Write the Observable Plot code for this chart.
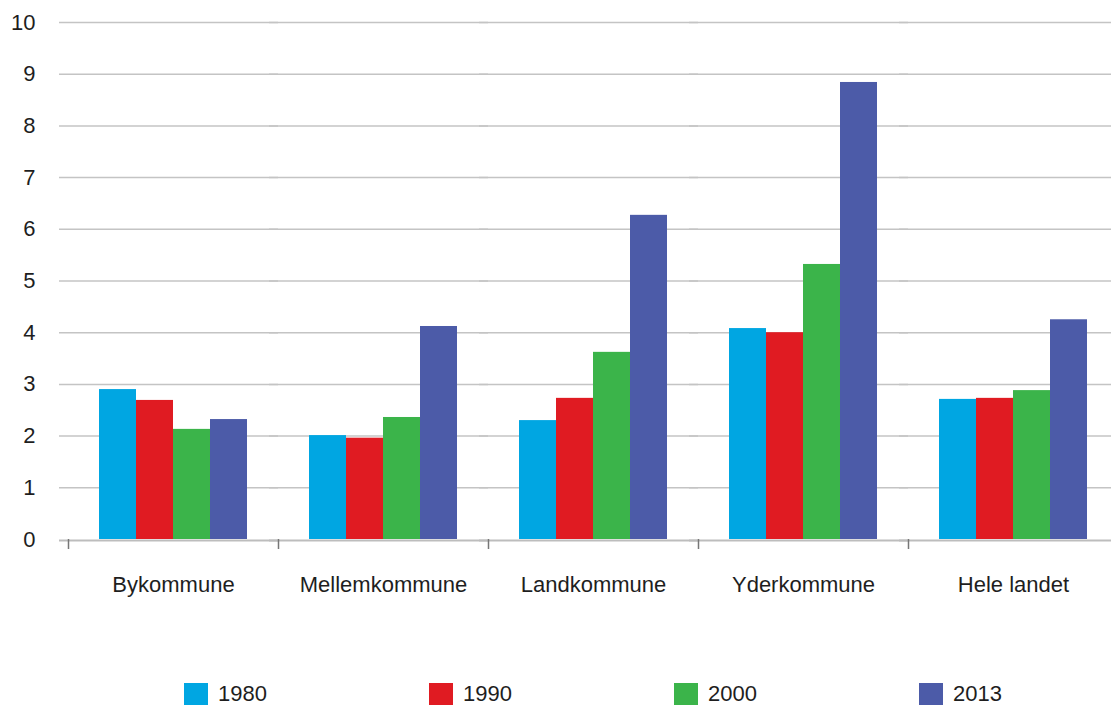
<!DOCTYPE html>
<html>
<head>
<meta charset="utf-8">
<script src="https://cdn.jsdelivr.net/npm/d3@7"></script>
<script src="https://cdn.jsdelivr.net/npm/@observablehq/plot@0.6"></script>
<style>
  body { margin: 0; background: #fff; font-family: "Liberation Sans", Arial, sans-serif; overflow: hidden; }
  #legend { display: flex; margin-left: 184px; margin-top: 66px; }
  #legend .item { width: 245px; flex: 0 0 245px; display: flex; align-items: center; font-size: 22px; color: #1e1e1e; }
  #legend .item:last-child { flex: 0 0 auto; width: auto; }
  #legend .sw { width: 24px; height: 23px; margin-right: 10px; }
</style>
</head>
<body>
<div id="chart"></div>
<div id="legend"></div>
<script>
const categories = ["Bykommune", "Mellemkommune", "Landkommune", "Yderkommune", "Hele landet"];
const years = ["1980", "1990", "2000", "2013"];
const colors = ["#00a6e2", "#e01b22", "#3bb44a", "#4c5ba8"];
const v1980 = [2.90, 2.01, 2.30, 4.08, 2.71];
const v1990 = [2.69, 1.96, 2.73, 4.00, 2.73];
const v2000 = [2.13, 2.36, 3.62, 5.32, 2.88];
const v2013 = [2.32, 4.12, 6.27, 8.84, 4.25];
const yTicks = [0, 1, 2, 3, 4, 5, 6, 7, 8, 9, 10];

const series = [v1980, v1990, v2000, v2013];
const data = [];
categories.forEach((c, i) => years.forEach((y, j) => data.push({cat: c, year: y, value: series[j][i]})));

const W = 1111, mL = 68, mR = -7;
const facetW = (W - mL - mR) / categories.length;

const chart = Plot.plot({
  width: W,
  height: 615,
  marginLeft: mL,
  marginRight: mR,
  marginTop: 22,
  marginBottom: 76,
  style: {fontFamily: "Liberation Sans, Arial, sans-serif", fontSize: "22px", color: "#1e1e1e", background: "#fff"},
  fx: {domain: categories, padding: 0, axis: null},
  x: {domain: years, paddingInner: 0, paddingOuter: 0.8, axis: null},
  y: {domain: [0, 10], axis: null},
  color: {domain: years, range: colors},
  marks: [
    Plot.ruleY(yTicks.filter(d => d > 0), {y: d => d, stroke: "#c4c4c4", strokeWidth: 1.5, insetLeft: -9}),
    Plot.barY(data, {fx: "cat", x: "year", y: "value", fill: "year"}),
    Plot.ruleY([0], {stroke: "#bdbdbd", strokeWidth: 2, dy: 1, insetLeft: -9}),
    Plot.axisY(yTicks, {tickSize: 0, tickPadding: 33, label: null, tickFormat: d => String(d)}),
    Plot.axisFx({anchor: "bottom", tickSize: 0, tickPadding: 37, label: null}),
    Plot.axisFx({anchor: "bottom", tickSize: 10, tickPadding: 0, tickFormat: () => "", label: null, dx: -facetW / 2, stroke: "#777", strokeWidth: 1.5})
  ]
});
document.getElementById("chart").append(chart);

const legend = document.getElementById("legend");
years.forEach((y, i) => {
  const item = document.createElement("div");
  item.className = "item";
  const sw = document.createElement("div");
  sw.className = "sw";
  sw.style.background = colors[i];
  const t = document.createElement("span");
  t.textContent = y;
  item.append(sw, t);
  legend.append(item);
});
</script>
</body>
</html>
